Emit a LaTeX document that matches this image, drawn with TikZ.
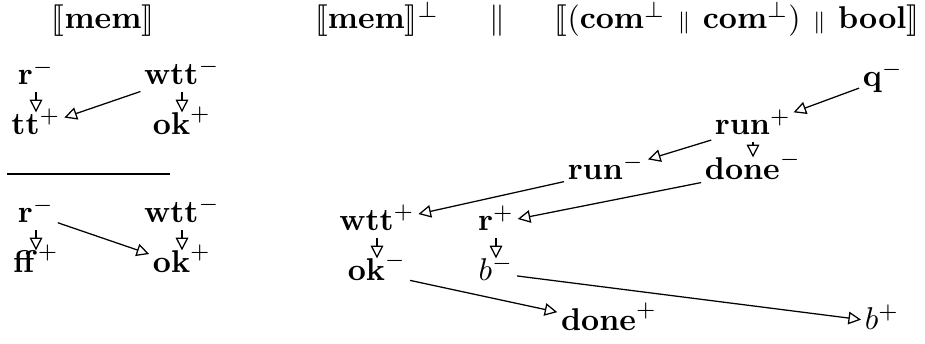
\documentclass[tikz,border=0pt]{standalone}
\usepackage{stmaryrd}
\usetikzlibrary{arrows.meta}

\begin{document}
\begin{tikzpicture}[x=0.3175pt,y=-0.3175pt,
  head/.style={inner sep=1pt,anchor=base},
  ev/.style={inner sep=1pt,anchor=base,text height=6pt,text depth=1.1pt},
  causal/.style={-{Triangle[open,length=4pt,width=4pt]}}]
\useasboundingbox (0,0) rectangle (925,344);
\node[head] (tmem) at (103,29) {$\llbracket\mathbf{mem}\rrbracket$};
\node[head] (tmemp) at (377,29) {$\llbracket\mathbf{mem}\rrbracket^\perp$};
\node[head] (tpar) at (497,29) {$\parallel$};
\node[head] (ttype) at (737,29) {$\llbracket(\mathbf{com}^\perp\,\mathbin{\scriptstyle\parallel}\,\mathbf{com}^\perp)\,\mathbin{\scriptstyle\parallel}\,\mathbf{bool}\rrbracket$};
\node[ev] (r1) at (36,85) {$\mathbf{r}^-$};
\node[ev] (tt) at (36,135) {$\mathbf{tt}^+$};
\node[ev] (w1) at (182,85) {$\mathbf{wtt}^-$};
\node[ev] (ok1) at (182,135) {$\mathbf{ok}^+$};
\draw[causal] (r1)--(tt);
\draw[causal] (w1)--(ok1);
\draw[causal] (w1)--(tt);
\draw (7,174)--(170,174);
\node[ev] (r2) at (36,223) {$\mathbf{r}^-$};
\node[ev] (ff) at (36,273) {$\mathbf{ff}^+$};
\node[ev] (w2) at (182,223) {$\mathbf{wtt}^-$};
\node[ev] (ok2) at (182,273) {$\mathbf{ok}^+$};
\draw[causal] (r2)--(ff);
\draw[causal] (w2)--(ok2);
\draw[causal] (r2)--(ok2);
\node[ev] (q) at (883,87) {$\mathbf{q}^-$};
\node[ev] (runp) at (753,135) {$\mathbf{run}^+$};
\node[ev] (donem) at (753,180) {$\mathbf{done}^-$};
\node[ev] (runm) at (606,180) {$\mathbf{run}^-$};
\node[ev] (wttp) at (377,231) {$\mathbf{wtt}^+$};
\node[ev] (rp) at (496,231) {$\mathbf{r}^+$};
\node[ev] (okm) at (377,281) {$\mathbf{ok}^-$};
\node[ev] (bm) at (496,281) {$b^-$};
\node[ev] (donep) at (609,331) {$\mathbf{done}^+$};
\node[ev] (bp) at (882,330) {$b^+$};
\draw[causal] (q)--(runp);
\draw[causal] (runp)--(donem);
\draw[causal] (runp)--(runm);
\draw[causal] (runm)--(wttp);
\draw[causal] (donem)--(rp);
\draw[causal] (wttp)--(okm);
\draw[causal] (rp)--(bm);
\draw[causal] (okm)--(donep);
\draw[causal] (bm)--(bp);
\end{tikzpicture}
\end{document}
